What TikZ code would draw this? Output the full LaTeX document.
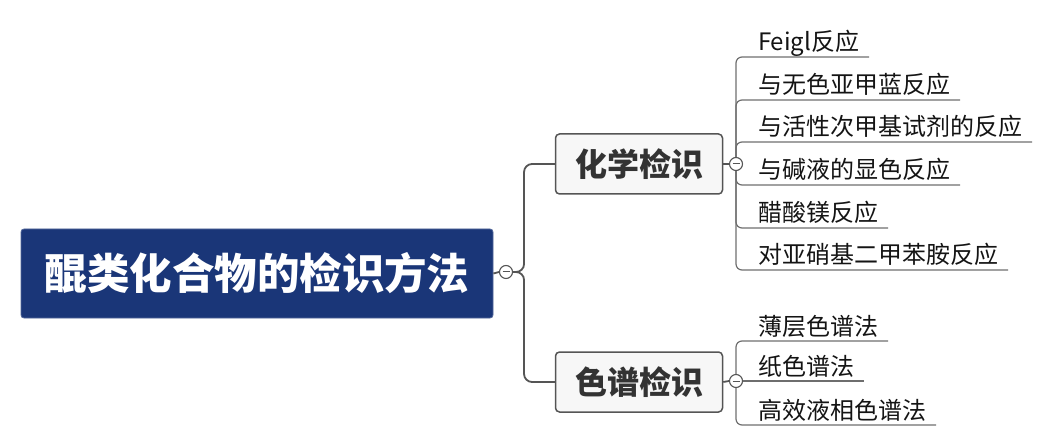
\documentclass[tikz,border=0pt]{standalone}
\usepackage{fontspec}
\setmainfont{Noto Sans CJK SC}
\definecolor{rootblue}{RGB}{26,54,120}
\definecolor{linegray}{RGB}{85,85,85}
\definecolor{leafgray}{RGB}{110,110,110}
\definecolor{boxfill}{RGB}{247,247,247}
\definecolor{branchtext}{RGB}{51,51,51}
\definecolor{leaftext}{RGB}{20,20,20}
\begin{document}
\begin{tikzpicture}[x=1pt,y=-1pt,
  rootbox/.style={rectangle, rounded corners=3pt, fill=rootblue, draw=rootblue!75!white, line width=0.8pt,
    minimum width=472pt, minimum height=89pt, inner sep=0pt, text=white,
    font=\fontsize{42.5}{50}\selectfont\bfseries},
  branchbox/.style={rectangle, rounded corners=4pt, fill=boxfill, draw=linegray, line width=1.5pt,
    minimum width=167pt, minimum height=60pt, inner sep=0pt, text=branchtext,
    font=\fontsize{32}{38}\selectfont\bfseries},
  leaf/.style={anchor=south west, inner sep=0pt, outer sep=0pt, text depth=6pt, text=leaftext,
    font=\fontsize{24}{29}\selectfont},
  collapse/.style={circle, draw=linegray, fill=white, minimum size=13pt, inner sep=0pt, line width=1.1pt,
    path picture={\draw[linegray, line width=1pt] ([xshift=-3.5pt]path picture bounding box.center) -- ([xshift=3.5pt]path picture bounding box.center);}},
  trunk/.style={draw=linegray, line width=1.8pt, rounded corners=8pt},
  leafline/.style={draw=leafgray, line width=1.2pt, rounded corners=6pt}
]
\path[use as bounding box] (0,0) rectangle (1052,446);

% root
\node[rootbox] (root) at (257,273.5) {醌类化合物的检识方法};
\node[collapse] (c0) at (506,272) {};

% branches
\node[branchbox] (chem) at (639,164) {化学检识};
\node[branchbox] (chrom) at (639,382) {色谱检识};
\node[collapse] (c1) at (736,164) {};
\node[collapse] (c2) at (736,381) {};

% trunk connectors
\draw[trunk] (root.east) -- (c0.west);
\draw[trunk] (c0.east) -- ++(11,0) |- (chem.west);
\draw[trunk] (c0.east) -- ++(11,0) |- (chrom.west);
\draw[trunk] (chem.east) -- (c1.west);
\draw[trunk] (chrom.east) -- (c2.west);

% chemical leaves
\node[leaf] (l1) at (758,57) {Feigl反应};
\node[leaf] (l2) at (758,100) {与无色亚甲蓝反应};
\node[leaf] (l3) at (758,142) {与活性次甲基试剂的反应};
\node[leaf] (l4) at (758,185) {与碱液的显色反应};
\node[leaf] (l5) at (758,228) {醋酸镁反应};
\node[leaf] (l6) at (758,270) {对亚硝基二甲苯胺反应};

\draw[leafline] (c1.north) |- (l1.south west) -- ([xshift=10pt]l1.south east);
\draw[leafline] (c1.north) |- (l2.south west) -- ([xshift=10pt]l2.south east);
\draw[leafline] (c1.north) |- (l3.south west) -- ([xshift=10pt]l3.south east);
\draw[leafline] (c1.south) |- (l4.south west) -- ([xshift=10pt]l4.south east);
\draw[leafline] (c1.south) |- (l5.south west) -- ([xshift=10pt]l5.south east);
\draw[leafline] (c1.south) |- (l6.south west) -- ([xshift=10pt]l6.south east);

% chromatography leaves
\node[leaf] (m1) at (758,341) {薄层色谱法};
\node[leaf] (m2) at (758,381) {纸色谱法};
\node[leaf] (m3) at (758,425) {高效液相色谱法};

\draw[leafline] (c2.north) |- (m1.south west) -- ([xshift=10pt]m1.south east);
\draw[leafline] (c2.east) -- ([xshift=10pt]m2.south east);
\draw[leafline] (c2.south) |- (m3.south west) -- ([xshift=10pt]m3.south east);
\end{tikzpicture}
\end{document}
